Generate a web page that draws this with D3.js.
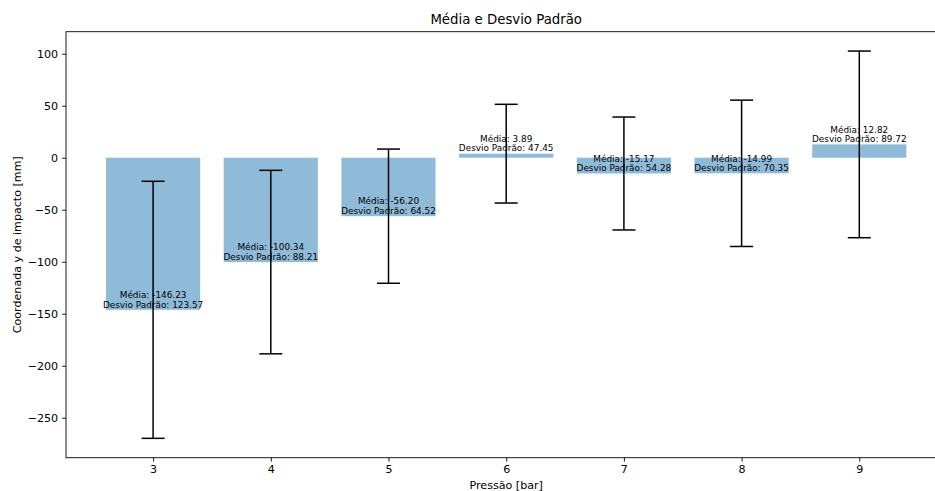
<!DOCTYPE html>
<html>
<head>
<meta charset="utf-8">
<script src="https://cdn.jsdelivr.net/npm/d3@7/dist/d3.min.js"></script>
<style>
  html, body { margin: 0; padding: 0; background: #fff; overflow: hidden; }
  svg { display: block; font-family: "DejaVu Sans", sans-serif; }
</style>
</head>
<body>
<svg id="chart" width="935" height="491"></svg>
<script>
// Pressure levels (bar)
const pressures = [3, 4, 5, 6, 7, 8, 9];
// Mean y-coordinate of impact (mm)
const means = [-146.23, -100.34, -56.20, 3.89, -15.17, -14.99, 12.82];
// Standard deviation (mm)
const stds = [123.57, 88.21, 64.52, 47.45, 54.28, 70.35, 89.72];
// Y-axis tick values
const yTicks = [-250, -200, -150, -100, -50, 0, 50, 100];

const svg = d3.select("#chart");
const plotLeft = 66, plotRight = 946.4, plotTop = 31.7, plotBottom = 457.7;
const barWidth = 0.8;

// Data extent with 5% margins
const xMin = d3.min(pressures) - barWidth / 2, xMax = d3.max(pressures) + barWidth / 2;
const xPad = (xMax - xMin) * 0.05;
const x = d3.scaleLinear().domain([xMin - xPad, xMax + xPad]).range([plotLeft, plotRight]);

const lo = d3.min(means.map((m, i) => m - stds[i]));
const hi = d3.max(means.map((m, i) => m + stds[i]));
const yPad = (hi - lo) * 0.05;
const y = d3.scaleLinear().domain([lo - yPad, hi + yPad]).range([plotBottom, plotTop]);

const data = pressures.map((p, i) => ({ p, mean: means[i], std: stds[i] }));

// Bars
svg.append("g").selectAll("rect").data(data).join("rect")
  .attr("x", d => x(d.p - barWidth / 2))
  .attr("width", d => x(d.p + barWidth / 2) - x(d.p - barWidth / 2))
  .attr("y", d => Math.min(y(d.mean), y(0)))
  .attr("height", d => Math.abs(y(d.mean) - y(0)))
  .attr("fill", "#1f77b4")
  .attr("fill-opacity", 0.5);

// Value labels
const labels = svg.append("g").attr("font-size", 8.9).attr("fill", "#000").attr("text-anchor", "middle");
data.forEach(d => {
  const t = labels.append("text").attr("x", x(d.p));
  t.append("tspan").attr("x", x(d.p)).attr("y", y(d.mean) - 11.8).text(`Média: ${d.mean.toFixed(2)}`);
  t.append("tspan").attr("x", x(d.p)).attr("y", y(d.mean) - 2.3).text(`Desvio Padrão: ${d.std.toFixed(2)}`);
});

// Error bars
const cap = 11.5;
const eb = svg.append("g").attr("stroke", "#000").attr("stroke-width", 1.5);
data.forEach(d => {
  const cx = x(d.p);
  eb.append("line").attr("x1", cx).attr("x2", cx).attr("y1", y(d.mean - d.std)).attr("y2", y(d.mean + d.std));
  eb.append("line").attr("x1", cx - cap).attr("x2", cx + cap).attr("y1", y(d.mean - d.std)).attr("y2", y(d.mean - d.std));
  eb.append("line").attr("x1", cx - cap).attr("x2", cx + cap).attr("y1", y(d.mean + d.std)).attr("y2", y(d.mean + d.std));
});

// Axes
const xAxis = svg.append("g").attr("transform", `translate(0,${plotBottom})`)
  .call(d3.axisBottom(x).tickValues(pressures).tickFormat(d3.format("d")).tickSizeOuter(0).tickSize(3.9).tickPadding(4));
const yAxis = svg.append("g").attr("transform", `translate(${plotLeft},0)`)
  .call(d3.axisLeft(y).tickValues(yTicks).tickSizeOuter(0).tickSize(3.9).tickPadding(4));
[xAxis, yAxis].forEach(a => {
  a.select(".domain").remove();
  a.selectAll("text").attr("font-size", 11.1).attr("fill", "#000").attr("font-family", "DejaVu Sans, sans-serif");
  a.selectAll("line").attr("stroke", "#000").attr("stroke-width", 0.9);
});

// Frame
svg.append("rect").attr("x", plotLeft).attr("y", plotTop).attr("width", plotRight - plotLeft).attr("height", plotBottom - plotTop)
  .attr("fill", "none").attr("stroke", "#000").attr("stroke-width", 0.9);

// Titles
const midX = (plotLeft + plotRight) / 2;
svg.append("text").attr("x", midX).attr("y", 24).attr("text-anchor", "middle").attr("font-size", 13.3).text("Média e Desvio Padrão");
svg.append("text").attr("x", midX).attr("y", 489).attr("text-anchor", "middle").attr("font-size", 11.1).text("Pressão [bar]");
svg.append("text").attr("transform", `translate(21,${(plotTop + plotBottom) / 2}) rotate(-90)`).attr("text-anchor", "middle")
  .attr("font-size", 11.1).text("Coordenada y de impacto [mm]");
</script>
</body>
</html>
